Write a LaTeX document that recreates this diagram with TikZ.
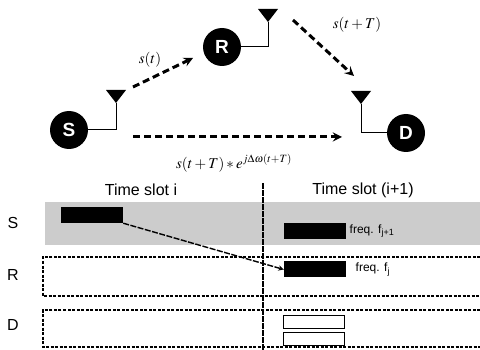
\documentclass[tikz,border=0pt]{standalone}
\usepackage{mathptmx}
\usepackage{fontspec}
\setmainfont{Liberation Sans}
\usetikzlibrary{positioning}

\begin{document}
\begin{tikzpicture}[x=1pt,y=-1pt,
  station/.style={circle,fill=black,text=white,minimum size=38pt,inner sep=0pt,
    font=\bfseries\fontsize{19}{19}\selectfont},
  wire/.style={line width=1pt},
  link/.style={->,>=stealth,line width=3pt,dash pattern=on 7pt off 4pt},
  lane/.style={line width=1.2pt,dash pattern=on 3pt off 1.5pt},
  burst/.style={fill=black,minimum width=62pt,minimum height=16pt,inner sep=0pt},
  echo/.style={draw,fill=white,line width=0.9pt,minimum width=61pt,minimum height=13pt,inner sep=0pt},
  sig/.style={font=\fontsize{15}{15}\selectfont},
  lbl/.style={font=\fontsize{16}{16}\selectfont},
  freq/.style={anchor=west,font=\fontsize{12}{12}\selectfont}]
  \useasboundingbox (0,0) rectangle (480,350);
  % stations and antennas
  \node[station] (S) at (69,130) {S};
  \node[station] (R) at (222,47) {R};
  \node[station] (D) at (406,133) {D};
  \coordinate (aS) at (116,103);
  \coordinate (aR) at (268,22);
  \coordinate (aD) at (361,104);
  \foreach \a in {aS,aR,aD}{\fill ([xshift=-10pt,yshift=13pt]\a) -- ([xshift=10pt,yshift=13pt]\a) -- (\a) -- cycle;}
  \draw[wire] (S.east) -| (aS);
  \draw[wire] (R.east) -| (aR);
  \draw[wire] (D.west) -| (aD);
  % links
  \coordinate (sr0) at (133,87);  \coordinate (sr1) at (193,58);
  \coordinate (rd0) at (293,20);  \coordinate (rd1) at (354,76);
  \coordinate (sd0) at (133,137); \coordinate (sd1) at (342,137);
  \draw[link] (sr0) -- (sr1);
  \draw[link] (rd0) -- (rd1);
  \draw[link] (sd0) -- (sd1);
  \node[sig] at (150,60) {$s(t)$};
  \node[sig] at (357,25) {$s(t+T)$};
  \node[sig] at (234,163) {$s(t+T)*e^{j\Delta\omega(t+T)}$};
  % time slots
  \node[lbl] at (141,190) {Time slot i};
  \node[lbl] at (363,190) {Time slot (i+1)};
  \fill[black!20] (45,202) rectangle (480,245);
  \draw[lane] (480,257) -| (43,296) -- (480,296);
  \draw[lane] (480,310) -| (43,347) -- (480,347);
  \draw[line width=1.4pt,dash pattern=on 6pt off 1pt] (263,183) -- (263,350);
  \node[lbl] at (13,223) {S};
  \node[lbl] at (13,275) {R};
  \node[lbl] at (13,325) {D};
  \node[burst] (b1) at (92,215) {};
  \node[burst] (b2) at (315,231) {};
  \node[burst] (b3) at (315,269.5) {};
  \node[echo] (e1) at (313.5,321.5) {};
  \node[echo] (e2) at (313.5,339) {};
  \node[freq] at (b2.east) {freq. f\textsubscript{j+1}};
  \node[freq,xshift=6pt] at (b3.east) {freq. f\textsubscript{j}};
  \draw[->,>=stealth,line width=1.4pt,dash pattern=on 6pt off 1.5pt] (b1.south east) -- (b3.west);
\end{tikzpicture}
\end{document}
